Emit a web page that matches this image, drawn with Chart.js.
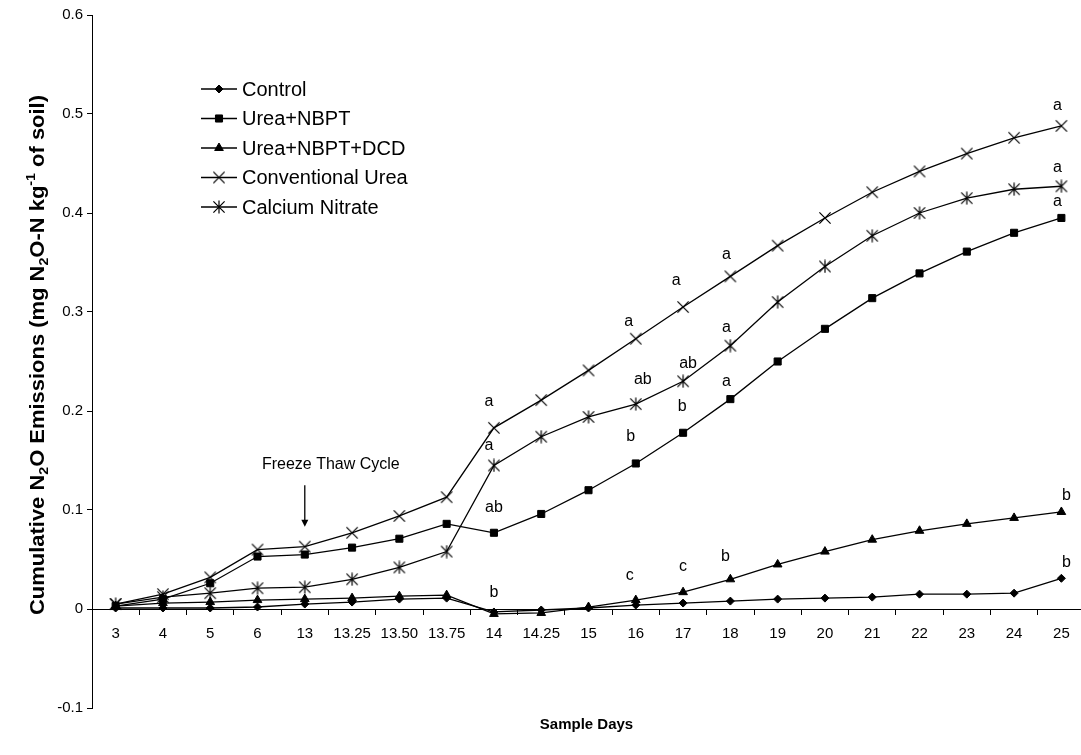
<!DOCTYPE html>
<html><head><meta charset="utf-8">
<script src="https://cdn.jsdelivr.net/npm/chart.js@4.4.1/dist/chart.umd.min.js"></script>
<style>html,body{margin:0;padding:0;background:#fff;}canvas{display:block;}</style>
</head><body>
<canvas id="c" width="1081" height="755"></canvas>
<script>
// ---- data ----
const days = ['3','4','5','6','13','13.25','13.50','13.75','14','14.25','15','16','17','18','19','20','21','22','23','24','25'];
const control        = [0.001,0.001,0.001,0.002,0.005,0.007,0.010,0.011,-0.003,-0.001,0.001,0.004,0.006,0.008,0.010,0.011,0.012,0.015,0.015,0.016,0.031];
const ureaNBPT       = [0.003,0.010,0.026,0.053,0.055,0.062,0.071,0.086,0.077,0.096,0.120,0.147,0.178,0.212,0.250,0.283,0.314,0.339,0.361,0.380,0.395];
const ureaNBPTDCD    = [0.003,0.006,0.007,0.009,0.010,0.011,0.013,0.014,-0.005,-0.004,0.002,0.009,0.017,0.030,0.045,0.058,0.070,0.079,0.086,0.092,0.098];
const convUrea       = [0.005,0.015,0.032,0.060,0.063,0.077,0.094,0.113,0.183,0.211,0.241,0.273,0.305,0.336,0.367,0.395,0.421,0.442,0.460,0.476,0.488];
const calciumNitrate = [0.005,0.012,0.016,0.021,0.022,0.030,0.042,0.058,0.145,0.174,0.194,0.207,0.230,0.266,0.310,0.346,0.377,0.400,0.415,0.424,0.427];
const seriesNames = ['Control','Urea+NBPT','Urea+NBPT+DCD','Conventional Urea','Calcium Nitrate'];
const yTicks = [-0.1,0,0.1,0.2,0.3,0.4,0.5,0.6];
// significance letters: day, series index, letter
const sigDays    = ['14','14','14','14','16','16','16','16','17','17','17','17','18','18','18','18','25','25','25','25','25'];
const sigSeries  = [3,4,1,2, 3,4,1,2, 3,4,1,2, 3,4,1,2, 3,4,1,2,0];
const sigLetters = ['a','a','ab','b','a','ab','b','c','a','ab','b','c','a','a','a','b','a','a','a','b','b'];
const freezeLabel = 'Freeze Thaw Cycle';
const freezeDay = '13';

// ---- styles ----
const FONT = '"Liberation Sans", Arial, sans-serif';
const sigOffsets = [[-5,-25],[-5,-19],[0,-24],[0,-20],
                    [-7,-16],[7,-23],[-5,-26],[-6,-23],
                    [-7,-25],[5,-17],[-1,-25],[0,-25],
                    [-4,-21],[-4,-17],[-4,-17],[-5,-22],
                    [-4,-19],[-4,-18],[-4,-15],[5,-15],[5,-15]];

function makeMarker(kind){
  const c = document.createElement('canvas'); c.width = 14; c.height = 14;
  const g = c.getContext('2d'); g.strokeStyle = '#000'; g.lineWidth = 1.2; g.lineCap='butt';
  const m = 7, h = 5.6;
  g.beginPath();
  g.moveTo(m-h,m-h); g.lineTo(m+h,m+h);
  g.moveTo(m+h,m-h); g.lineTo(m-h,m+h);
  if (kind === 'star'){ g.moveTo(m,m-6.5); g.lineTo(m,m+6.5); }
  g.stroke();
  return c;
}
const xMarker = makeMarker('x');
const starMarker = makeMarker('star');

const seriesValues = [control, ureaNBPT, ureaNBPTDCD, convUrea, calciumNitrate];
const seriesStyles = [
  {pointStyle:'rectRot', pointRadius:4},
  {pointStyle:'rect', pointRadius:5},
  {pointStyle:'triangle', pointRadius:5},
  {pointStyle:xMarker, pointRadius:6},
  {pointStyle:starMarker, pointRadius:6}
];

const datasets = seriesValues.map((vals, si) => Object.assign({
  label: seriesNames[si],
  data: vals.map((v, i) => ({x: i, y: v})),
  borderColor:'#000', backgroundColor:'#000', borderWidth:1.3,
  pointBackgroundColor:'#000', pointBorderColor:'#000', pointBorderWidth:1,
  pointHoverRadius:6, tension:0, fill:false
}, seriesStyles[si]));

function drawMarker(ctx, ds, x, y){
  const ps = ds.pointStyle;
  if (ps instanceof HTMLCanvasElement){ ctx.drawImage(ps, x - ps.width/2, y - ps.height/2); return; }
  ctx.fillStyle = '#000'; ctx.strokeStyle = '#000'; ctx.lineWidth = 1;
  Chart.helpers.drawPoint(ctx, {pointStyle: ps, radius: ds.pointRadius, rotation: 0, borderWidth: 1}, x, y);
}

const overlay = {
  id:'overlay',
  afterDatasetsDraw(chart){
    const ctx = chart.ctx, xs = chart.scales.x, ys = chart.scales.y, ca = chart.chartArea;
    ctx.save();
    ctx.fillStyle = '#000';
    // significance letters
    ctx.font = '16px ' + FONT; ctx.textAlign = 'center'; ctx.textBaseline = 'middle';
    sigLetters.forEach((t, i) => {
      const di = days.indexOf(sigDays[i]);
      const pt = chart.getDatasetMeta(sigSeries[i]).data[di];
      ctx.fillText(t, pt.x + sigOffsets[i][0], pt.y + sigOffsets[i][1] - 1);
    });
    // freeze-thaw annotation
    const fi = days.indexOf(freezeDay);
    const fx = xs.getPixelForValue(fi);
    ctx.fillText(freezeLabel, xs.getPixelForValue(fi + 0.55), ys.getPixelForValue(0.146));
    const yTop = ys.getPixelForValue(0.125), yTip = ys.getPixelForValue(0.083);
    ctx.strokeStyle = '#000'; ctx.lineWidth = 1.3;
    ctx.beginPath(); ctx.moveTo(fx, yTop); ctx.lineTo(fx, yTip - 6); ctx.stroke();
    ctx.beginPath(); ctx.moveTo(fx - 3.5, yTip - 7); ctx.lineTo(fx + 3.5, yTip - 7); ctx.lineTo(fx, yTip); ctx.closePath(); ctx.fill();
    // legend
    const lx0 = 201, lx1 = 237, ly0 = 89, lstep = 29.5;
    ctx.font = '20px ' + FONT; ctx.textAlign = 'left'; ctx.textBaseline = 'middle';
    chart.data.datasets.forEach((ds, i) => {
      const y = ly0 + i * lstep;
      ctx.strokeStyle = '#000'; ctx.lineWidth = 1.3;
      ctx.beginPath(); ctx.moveTo(lx0, y); ctx.lineTo(lx1, y); ctx.stroke();
      drawMarker(ctx, ds, (lx0 + lx1) / 2, y);
      ctx.fillStyle = '#000';
      ctx.fillText(ds.label, 242, y + 1);
    });
    // x title
    ctx.font = 'bold 15px ' + FONT; ctx.textAlign = 'center'; ctx.textBaseline = 'middle';
    ctx.fillText('Sample Days', (ca.left + ca.right) / 2, 725);
    // y title with sub/superscripts
    const segs = [['Cumulative N',0],['2',1],['O Emissions (mg N',0],['2',1],['O-N kg',0],['-1',2],[' of soil)',0]];
    const mainF = 'bold 20px ' + FONT, smallF = 'bold 13px ' + FONT;
    let W = 0;
    const ws = segs.map(s => { ctx.font = s[1] ? smallF : mainF; const w = ctx.measureText(s[0]).width; W += w; return w; });
    const target = 520, sc = target / W;
    ctx.translate(37, 355); ctx.rotate(-Math.PI / 2); ctx.scale(sc, 1);
    ctx.textAlign = 'left'; ctx.textBaseline = 'alphabetic';
    let x = -W / 2;
    segs.forEach((s, i) => {
      ctx.font = s[1] ? smallF : mainF;
      const dy = s[1] === 1 ? 11 : (s[1] === 2 ? -2 : 7);
      ctx.fillText(s[0], x, dy);
      x += ws[i];
    });
    ctx.restore();
  }
};

new Chart(document.getElementById('c'), {
  type:'line',
  data:{ datasets },
  options:{
    responsive:false, animation:false, devicePixelRatio:1,
    layout:{ autoPadding:false, padding:{ top:15, right:0, bottom:47, left:0 } },
    plugins:{ legend:{display:false}, tooltip:{enabled:false} },
    scales:{
      x:{
        type:'linear', position:{ y:0 }, min:-0.5, max:20.415,
        afterBuildTicks(s){ s.ticks = days.map((d, i) => ({ value: i })); },
        grid:{ display:true, drawOnChartArea:false, drawTicks:true, tickLength:5, offset:true, color:'#000', lineWidth:1 },
        border:{ display:true, color:'#000', width:1 },
        ticks:{ color:'#000', font:{ family:FONT, size:15 }, padding:11, maxRotation:0, autoSkip:false,
                callback:(v) => days[v] }
      },
      y:{
        type:'linear', min:-0.1, max:0.6,
        afterBuildTicks(s){ s.ticks = yTicks.map(v => ({ value: v })); },
        afterFit(s){ s.width = 92; },
        grid:{ display:true, drawOnChartArea:false, drawTicks:true, tickLength:5, color:'#000', lineWidth:1 },
        border:{ display:true, color:'#000', width:1 },
        ticks:{ color:'#000', font:{ family:FONT, size:15 }, padding:4,
                callback:(v) => String(Math.round(v * 10) / 10) }
      }
    }
  },
  plugins:[overlay]
});
</script>
</body></html>
